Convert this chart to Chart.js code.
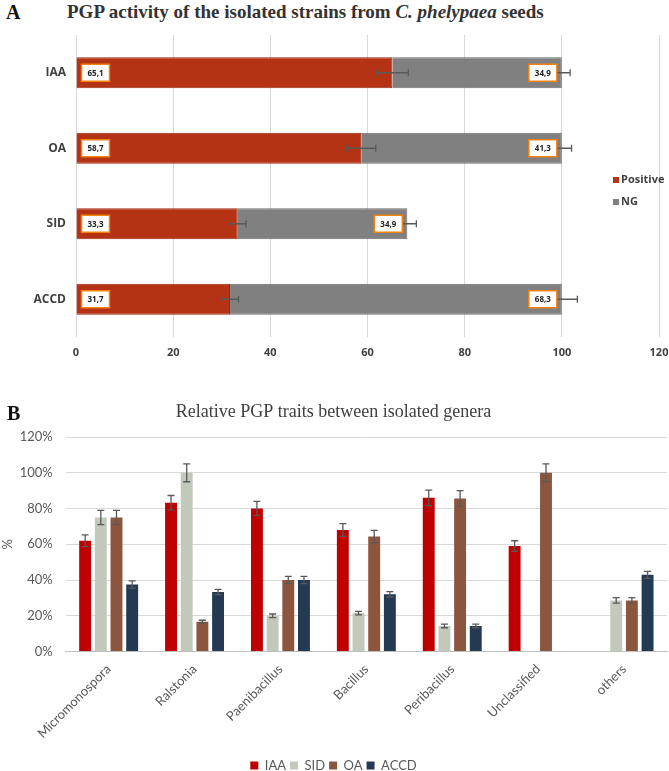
<!DOCTYPE html>
<html>
<head>
<meta charset="utf-8">
<script src="https://cdn.jsdelivr.net/npm/chart.js@4.4.0/dist/chart.umd.min.js"></script>
<style>
  body { margin: 0; width: 669px; height: 771px; overflow: hidden; background: #fff; position: relative; }
  .panel { position: absolute; left: 0; }
  .letter { position: absolute; font-family: "Liberation Serif", serif; font-weight: bold; font-size: 20px; line-height: 20px; color: #111; }
  #titleA { position: absolute; left: 67px; top: 2px; font-family: "Liberation Serif", serif; font-weight: bold; font-size: 19px; line-height: 20px; color: #333; white-space: nowrap; }
</style>
</head>
<body>
<div class="letter" style="left:6px; top:2px;">A</div>
<div id="titleA">PGP activity of the isolated strains from <i>C. phelypaea</i> seeds</div>
<div class="panel" style="top:0;"><canvas id="chartA" width="669" height="372"></canvas></div>
<div class="letter" style="left:7px; top:403px; z-index:2;">B</div>
<div class="panel" style="top:372px;"><canvas id="chartB" width="669" height="410"></canvas></div>
<script>
// panel A data
let traits = ['IAA', 'OA', 'SID', 'ACCD'];
let positive = [65.1, 58.7, 33.3, 31.7];
let negative = [34.9, 41.3, 34.9, 68.3];
let positiveErr = [3.3, 3.0, 1.7, 1.75];
let negativeErr = [1.7, 2.0, 1.85, 3.2];
let axisMaxA = 120;

// panel B data
let genera = ['Micromonospora', 'Ralstonia', 'Paenibacillus', 'Bacillus', 'Peribacillus', 'Unclassified', 'others'];
let iaa = [62, 83.3, 80, 68, 86, 59, 0];
let sid = [75, 100, 20, 21.5, 14.3, 0, 28.6];
let oa = [75, 16.7, 40, 64.3, 85.7, 100, 28.6];
let accd = [37.5, 33.3, 40, 32, 14.3, 0, 42.9];
let iaaErr = [3.3, 4, 4, 3.6, 4.3, 3, 0];
let sidErr = [4, 5, 1, 1, 1, 0, 1.5];
let oaErr = [4, 0.8, 2, 3.5, 4.3, 5, 1.5];
let accdErr = [2, 1.5, 2, 1.5, 1, 0, 2];
let axisMaxB = 120;

// error bars, drawn from the dataset's "errors" list
let errorBars = {
  id: 'errorBars',
  afterDatasetsDraw(chart) {
    let ctx = chart.ctx;
    let horizontal = chart.options.indexAxis === 'y';
    let vs = horizontal ? chart.scales.x : chart.scales.y;
    ctx.save();
    ctx.strokeStyle = '#595959';
    ctx.lineWidth = 1.3;
    chart.data.datasets.forEach((ds, di) => {
      if (!ds.errors) return;
      chart.getDatasetMeta(di).data.forEach((bar, i) => {
        let err = ds.errors[i];
        if (!err || !ds.data[i]) return;
        let px = Math.abs(vs.getPixelForValue(err) - vs.getPixelForValue(0));
        let cap = 3.5;
        ctx.beginPath();
        if (horizontal) {
          ctx.moveTo(bar.x - px, bar.y); ctx.lineTo(bar.x + px, bar.y);
          ctx.moveTo(bar.x - px, bar.y - cap); ctx.lineTo(bar.x - px, bar.y + cap);
          ctx.moveTo(bar.x + px, bar.y - cap); ctx.lineTo(bar.x + px, bar.y + cap);
        } else {
          ctx.moveTo(bar.x, bar.y - px); ctx.lineTo(bar.x, bar.y + px);
          ctx.moveTo(bar.x - cap, bar.y - px); ctx.lineTo(bar.x + cap, bar.y - px);
          ctx.moveTo(bar.x - cap, bar.y + px); ctx.lineTo(bar.x + cap, bar.y + px);
        }
        ctx.stroke();
      });
    });
    ctx.restore();
  }
};

// boxed value labels for panel A
let valueBoxes = {
  id: 'valueBoxes',
  afterDatasetsDraw(chart) {
    let ctx = chart.ctx;
    ctx.save();
    ctx.font = 'bold 8px "Open Sans"';
    ctx.textAlign = 'center';
    ctx.textBaseline = 'middle';
    chart.data.datasets.forEach((ds, di) => {
      chart.getDatasetMeta(di).data.forEach((bar, i) => {
        let w = 28, h = 17;
        let left = di === 0 ? bar.base + 5 : bar.x - 5 - w;
        let top = bar.y - h / 2;
        ctx.fillStyle = '#fff';
        ctx.fillRect(left, top, w, h);
        ctx.strokeStyle = '#F0820F';
        ctx.lineWidth = 1.5;
        ctx.strokeRect(left, top, w, h);
        ctx.fillStyle = '#222';
        ctx.fillText(ds.data[i].toFixed(1).replace('.', ','), left + w / 2, bar.y + 0.5);
      });
    });
    ctx.restore();
  }
};

let legendA = {
  id: 'legendA',
  afterDraw(chart) {
    let ctx = chart.ctx;
    let a = chart.chartArea;
    let x = a.right - 38, mid = (a.top + a.bottom) / 2;
    ctx.save();
    ctx.font = 'bold 11px "Open Sans"';
    ctx.textBaseline = 'middle';
    chart.data.datasets.forEach((ds, i) => {
      let y = mid - 6 + i * 22;
      ctx.fillStyle = ds.backgroundColor;
      ctx.fillRect(x - 8, y - 3, 6, 6);
      ctx.fillStyle = '#404040';
      ctx.fillText(ds.label, x, y);
    });
    ctx.restore();
  }
};

new Chart(document.getElementById('chartA'), {
  type: 'bar',
  data: {
    labels: traits,
    datasets: [
      { label: 'Positive', data: positive, errors: positiveErr, backgroundColor: '#B53214', borderColor: '#9C2A10', borderWidth: 1 },
      { label: 'NG', data: negative, errors: negativeErr, backgroundColor: '#808080', borderColor: '#6E6E6E', borderWidth: 1 }
    ]
  },
  options: {
    indexAxis: 'y',
    responsive: false,
    animation: false,
    devicePixelRatio: 1,
    layout: { padding: { top: 35, right: 0, bottom: 0, left: 0 } },
    barPercentage: 0.41,
    categoryPercentage: 1,
    plugins: { legend: { display: false }, tooltip: { enabled: false } },
    scales: {
      x: {
        stacked: true,
        min: 0,
        max: axisMaxA,
        ticks: { stepSize: 20, padding: 9, color: '#404040', font: { family: 'Open Sans', weight: 'bold', size: 11 } },
        grid: { color: '#d9d9d9', drawTicks: false },
        border: { display: false },
        afterFit: function (scale) { scale.height = 35; scale.paddingRight = 10; }
      },
      y: {
        stacked: true,
        ticks: { padding: 10, color: '#404040', font: { family: 'Open Sans', weight: 'bold', size: 12 } },
        grid: { display: false, drawTicks: false },
        border: { display: false },
        afterFit: function (scale) { scale.width = 76; }
      }
    }
  },
  plugins: [errorBars, valueBoxes, legendA]
});

new Chart(document.getElementById('chartB'), {
  type: 'bar',
  data: {
    labels: genera,
    datasets: [
      { label: 'IAA', data: iaa, errors: iaaErr, backgroundColor: '#C00000' },
      { label: 'SID', data: sid, errors: sidErr, backgroundColor: '#C2C8BA' },
      { label: 'OA', data: oa, errors: oaErr, backgroundColor: '#8C563E' },
      { label: 'ACCD', data: accd, errors: accdErr, backgroundColor: '#233A52' }
    ]
  },
  options: {
    responsive: false,
    animation: false,
    devicePixelRatio: 1,
    layout: { padding: { top: 0, right: 2, bottom: 0, left: 0 } },
    barPercentage: 0.76,
    categoryPercentage: 0.73,
    plugins: {
      title: {
        display: true,
        text: 'Relative PGP traits between isolated genera',
        color: '#404040',
        font: { family: 'Liberation Serif', size: 18, weight: 'normal' },
        padding: { top: 29, bottom: 14.5 }
      },
      legend: {
        position: 'bottom',
        labels: { boxWidth: 8, boxHeight: 8, padding: 4, color: '#595959', font: { family: 'Lato', size: 13 } }
      },
      tooltip: { enabled: false }
    },
    scales: {
      x: {
        ticks: { maxRotation: 45, minRotation: 45, padding: 2, color: '#595959', font: { family: 'Lato', size: 13 } },
        grid: { display: false },
        border: { color: '#bfbfbf' },
        afterFit: function (scale) { scale.height = 103.5; }
      },
      y: {
        min: 0,
        max: axisMaxB,
        ticks: { stepSize: 20, padding: 13, color: '#595959', font: { family: 'Lato', size: 13 },
          callback: function (value) { return value + '%'; } },
        grid: { color: '#d9d9d9', drawTicks: false },
        border: { display: false },
        title: { display: true, text: '%', color: '#595959', font: { family: 'Lato', size: 13 }, padding: 0 },
        afterFit: function (scale) { scale.width = 65.7; }
      }
    }
  },
  plugins: [errorBars]
});
</script>
</body>
</html>
